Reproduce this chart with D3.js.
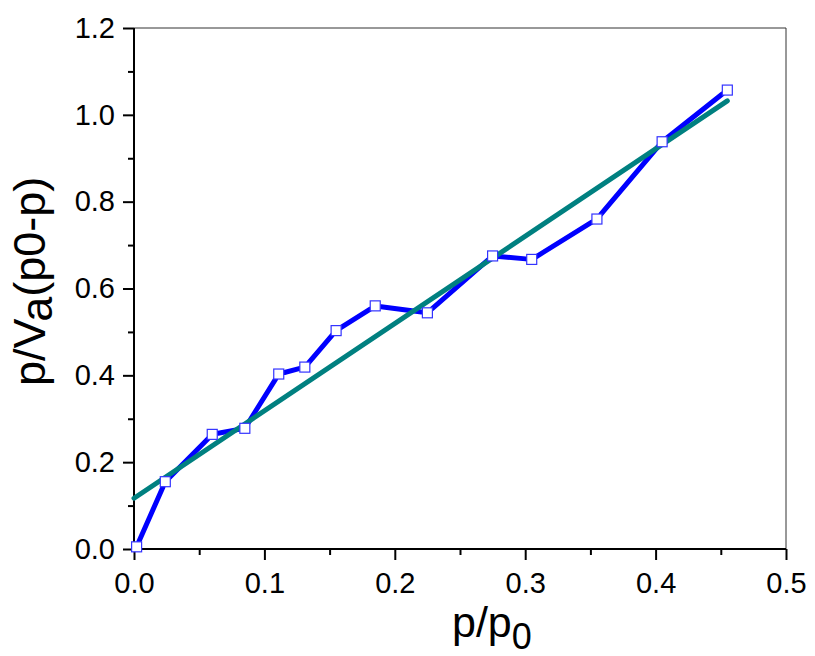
<!DOCTYPE html>
<html>
<head>
<meta charset="utf-8">
<script src="https://cdn.jsdelivr.net/npm/d3@7"></script>
<style>
  body { margin: 0; background: #fff; }
  svg { display: block; font-family: "Liberation Sans", Arial, sans-serif; }
</style>
</head>
<body>
<div id="chart"></div>
<script>
// measured points (p/p0 vs p/Va(p0-p))
let pX = [0.002, 0.024, 0.060, 0.085, 0.111, 0.131, 0.155, 0.185, 0.225, 0.275, 0.305, 0.355, 0.405, 0.455];
let pY = [0.005, 0.155, 0.264, 0.278, 0.403, 0.419, 0.503, 0.560, 0.544, 0.675, 0.667, 0.760, 0.938, 1.057];
// linear fit line
let fitX = [0.0, 0.455];
let fitY = [0.117, 1.032];

let xTicks = [0.0, 0.1, 0.2, 0.3, 0.4, 0.5];
let yTicks = [0.0, 0.2, 0.4, 0.6, 0.8, 1.0, 1.2];
let xMinor = [0.05, 0.15, 0.25, 0.35, 0.45];
let yMinor = [0.1, 0.3, 0.5, 0.7, 0.9, 1.1];

let dim = { width: 815, height: 656 };
let plot = { left: 134, right: 786, top: 28, bottom: 549 };

let svg = d3.select('#chart').append('svg')
    .attr('width', dim.width)
    .attr('height', dim.height);

let scaleX = d3.scaleLinear().domain([0, 0.5]).range([plot.left, plot.right]);
let scaleY = d3.scaleLinear().domain([0, 1.2]).range([plot.bottom, plot.top]);

// frame (top and right thin)
svg.append('line')
    .attr('x1', plot.left).attr('x2', plot.right)
    .attr('y1', plot.top).attr('y2', plot.top)
    .attr('stroke', '#333').attr('stroke-width', 1);
svg.append('line')
    .attr('x1', plot.right).attr('x2', plot.right)
    .attr('y1', plot.top).attr('y2', plot.bottom)
    .attr('stroke', '#333').attr('stroke-width', 1);

// axes
let axisX = svg.append('g')
    .attr('transform', `translate(0,${plot.bottom})`)
    .call(d3.axisBottom(scaleX).tickValues(xTicks).tickFormat(d3.format('.1f')).tickSize(11).tickPadding(12));
let axisXMinor = svg.append('g')
    .attr('transform', `translate(0,${plot.bottom})`)
    .call(d3.axisBottom(scaleX).tickValues(xMinor).tickFormat('').tickSize(6));
let axisY = svg.append('g')
    .attr('transform', `translate(${plot.left},0)`)
    .call(d3.axisLeft(scaleY).tickValues(yTicks).tickFormat(d3.format('.1f')).tickSize(11).tickPadding(8));
let axisYMinor = svg.append('g')
    .attr('transform', `translate(${plot.left},0)`)
    .call(d3.axisLeft(scaleY).tickValues(yMinor).tickFormat('').tickSize(6));

svg.selectAll('.domain').attr('stroke', '#000').attr('stroke-width', 2);
svg.selectAll('.tick line').attr('stroke', '#000').attr('stroke-width', 2);
svg.selectAll('.tick text')
    .attr('font-size', 29)
    .attr('font-family', '"Liberation Sans", Arial, sans-serif')
    .attr('fill', '#000');
axisX.selectAll('.domain').attr('d', `M${plot.left},0H${plot.right}`);
axisY.selectAll('.domain').attr('d', `M0,${plot.bottom}V${plot.top}`);
axisXMinor.select('.domain').remove();
axisYMinor.select('.domain').remove();

// data line, drawn as segments that stop short of the markers
let pts = pX.map((x, i) => ({ x: x, y: pY[i] }));
let gap = 6;
let segs = d3.pairs(pts).map(([a, b]) => {
    let x1 = scaleX(a.x), y1 = scaleY(a.y), x2 = scaleX(b.x), y2 = scaleY(b.y);
    let len = Math.hypot(x2 - x1, y2 - y1);
    let ux = (x2 - x1) / len, uy = (y2 - y1) / len;
    return { x1: x1 + ux * gap, y1: y1 + uy * gap, x2: x2 - ux * gap, y2: y2 - uy * gap };
});
svg.append('g').selectAll('line')
    .data(segs)
    .join('line')
    .attr('x1', d => d.x1).attr('y1', d => d.y1)
    .attr('x2', d => d.x2).attr('y2', d => d.y2)
    .attr('stroke', '#0000ff')
    .attr('stroke-width', 5)
    .attr('stroke-linecap', 'round');

// fit line
let fit = fitX.map((x, i) => ({ x: x, y: fitY[i] }));
svg.append('path')
    .datum(fit)
    .attr('d', d3.line().x(d => scaleX(d.x)).y(d => scaleY(d.y)))
    .attr('fill', 'none')
    .attr('stroke', '#008080')
    .attr('stroke-width', 5)
    .attr('stroke-linecap', 'round');

// markers
svg.append('g').selectAll('rect')
    .data(pts)
    .join('rect')
    .attr('x', d => scaleX(d.x) - 5)
    .attr('y', d => scaleY(d.y) - 5)
    .attr('width', 10)
    .attr('height', 10)
    .attr('fill', '#fff')
    .attr('stroke', '#3333ff')
    .attr('stroke-width', 1.2);

// axis titles
let xTitle = svg.append('text')
    .attr('x', 452)
    .attr('y', 637)
    .attr('font-size', 43)
    .attr('fill', '#000');
xTitle.append('tspan').text('p/p');
xTitle.append('tspan').attr('dy', 12).attr('font-size', 36).text('0');

let yTitle = svg.append('text')
    .attr('transform', 'translate(45,386) rotate(-90)')
    .attr('font-size', 45)
    .attr('fill', '#000');
yTitle.append('tspan').text('p/V');
yTitle.append('tspan').attr('dy', 7).text('a');
yTitle.append('tspan').attr('dy', -7).text('(p0-p)');
</script>
</body>
</html>
